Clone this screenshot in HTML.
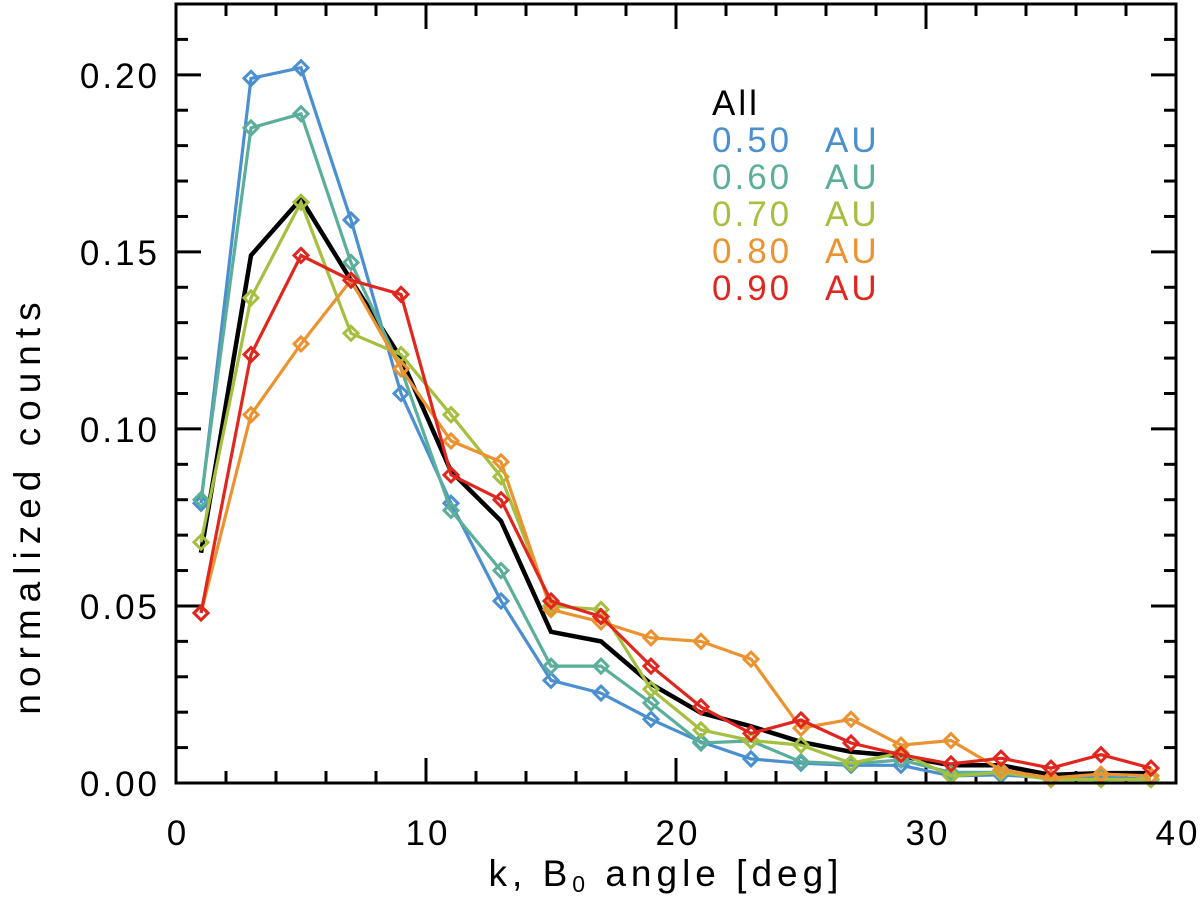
<!DOCTYPE html>
<html><head><meta charset="utf-8"><style>
html,body{margin:0;padding:0;background:#fff;}
svg{display:block;font-family:"Liberation Sans",sans-serif;}
</style></head><body>
<svg id="chart" width="1200" height="909">
<g id="ticks"></g>
<g id="series"></g>
<text x="666" y="886" font-size="37" letter-spacing="5" text-anchor="middle" fill="#000">k, B<tspan font-size="23" dy="6">0</tspan><tspan dy="-6"> angle [deg]</tspan></text>
<text transform="translate(40,505) rotate(-90)" font-size="37" letter-spacing="7" text-anchor="middle" fill="#000">normalized counts</text>
<g font-size="35" letter-spacing="3">
<text x="712" y="115" fill="#000">All</text>
<text x="712" y="152" fill="#4a8fd0">0.50<tspan x="825">AU</tspan></text>
<text x="712" y="189" fill="#5aae9a">0.60<tspan x="825">AU</tspan></text>
<text x="712" y="226" fill="#a5bf3f">0.70<tspan x="825">AU</tspan></text>
<text x="712" y="263" fill="#eb9330">0.80<tspan x="825">AU</tspan></text>
<text x="712" y="300" fill="#e0271f">0.90<tspan x="825">AU</tspan></text>
</g>
<rect x="176" y="4" width="1000" height="779" fill="none" stroke="#000" stroke-width="3"/>
</svg>
<script>
const angles=[1,3,5,7,9,11,13,15,17,19,21,23,25,27,29,31,33,35,37,39];
const allVals=[0.065,0.149,0.165,0.142,0.120,0.088,0.074,0.0427,0.040,0.028,0.0198,0.016,0.0116,0.0088,0.0076,0.005,0.005,0.0023,0.0028,0.0028];
const au050=[0.079,0.199,0.202,0.159,0.110,0.079,0.0514,0.029,0.0254,0.018,0.0116,0.0068,0.0056,0.005,0.005,0.002,0.0023,0.0014,0.0017,0.001];
const au060=[0.080,0.185,0.189,0.147,0.117,0.077,0.060,0.033,0.033,0.0226,0.0113,0.0119,0.006,0.0054,0.0065,0.003,0.003,0.001,0.001,0.001];
const au070=[0.068,0.137,0.164,0.127,0.121,0.104,0.0865,0.050,0.049,0.0265,0.015,0.012,0.0107,0.0056,0.0085,0.002,0.003,0.001,0.001,0.001];
const au080=[0.048,0.104,0.124,0.142,0.117,0.0966,0.0907,0.049,0.0455,0.041,0.040,0.035,0.0155,0.018,0.0107,0.012,0.0037,0.0014,0.0025,0.002];
const au090=[0.048,0.121,0.149,0.142,0.138,0.087,0.080,0.0514,0.047,0.033,0.0215,0.014,0.0178,0.0113,0.008,0.0054,0.007,0.0042,0.008,0.0042];
const xTicks=[0,10,20,30,40];
const yTicks=[0,0.05,0.10,0.15,0.20];
const yTickLabels=["0.00","0.05","0.10","0.15","0.20"];
const NS="http://www.w3.org/2000/svg";
const X0=176,X1=1176,YB=783,YT=4,xMax=40,yMax=0.22;
function sx(v){return X0+(X1-X0)*v/xMax;}
function sy(v){return YB-(YB-YT)*v/yMax;}
function mk(tag,attrs,parent){const e=document.createElementNS(NS,tag);for(const k in attrs)e.setAttribute(k,attrs[k]);parent.appendChild(e);return e;}
const tg=document.getElementById('ticks');
for(let v=0;v<=40.001;v+=2){const x=sx(v);const L=(Math.round(v)%10===0)?25:12;
 let t=mk('line',{x1:x,x2:x,y1:YB,y2:YB-L,stroke:'#000','stroke-width':3},tg);
 
 
 t=mk('line',{x1:x,x2:x,y1:YT,y2:YT+L,stroke:'#000','stroke-width':3},tg);
 
 }
for(let i=0;i<=22;i++){const v=i*0.01;const y=sy(v);const L=(i%5===0)?25:12;
 let t=mk('line',{x1:X0,x2:X0+L,y1:y,y2:y,stroke:'#000','stroke-width':3},tg);
 
 
 t=mk('line',{x1:X1,x2:X1-L,y1:y,y2:y,stroke:'#000','stroke-width':3},tg);
 
 }
xTicks.forEach(v=>{const t=mk('text',{x:sx(v)+2,y:845,'font-size':35,'letter-spacing':3,'text-anchor':'middle',fill:'#000'},tg);t.textContent=v;
 
 });
yTicks.forEach((v,i)=>{const t=mk('text',{x:160,y:sy(v)+13,'font-size':35,'letter-spacing':3,'text-anchor':'end',fill:'#000'},tg);t.textContent=yTickLabels[i];
 
 });
const sg=document.getElementById('series');
function drawSeries(vals,color,name,markers){
 const pts=angles.map((a,i)=>sx(a).toFixed(1)+','+sy(vals[i]).toFixed(1)).join(' ');
 const pl=mk('polyline',{points:pts,fill:'none',stroke:color,'stroke-width':markers?3.2:4.5,'stroke-linejoin':'miter'},sg);
 
 
 if(markers){angles.forEach((a,i)=>{const x=sx(a),y=sy(vals[i]),r=7;
  const d=mk('polygon',{points:`${x},${y-r} ${x+r},${y} ${x},${y+r} ${x-r},${y}`,fill:'none',stroke:color,'stroke-width':3},sg);
  
  });}
}
drawSeries(allVals,'#000','series-all',false);
drawSeries(au050,'#4a8fd0','series-050',true);
drawSeries(au060,'#5aae9a','series-060',true);
drawSeries(au070,'#a5bf3f','series-070',true);
drawSeries(au080,'#eb9330','series-080',true);
drawSeries(au090,'#e0271f','series-090',true);
</script>
</body></html>
